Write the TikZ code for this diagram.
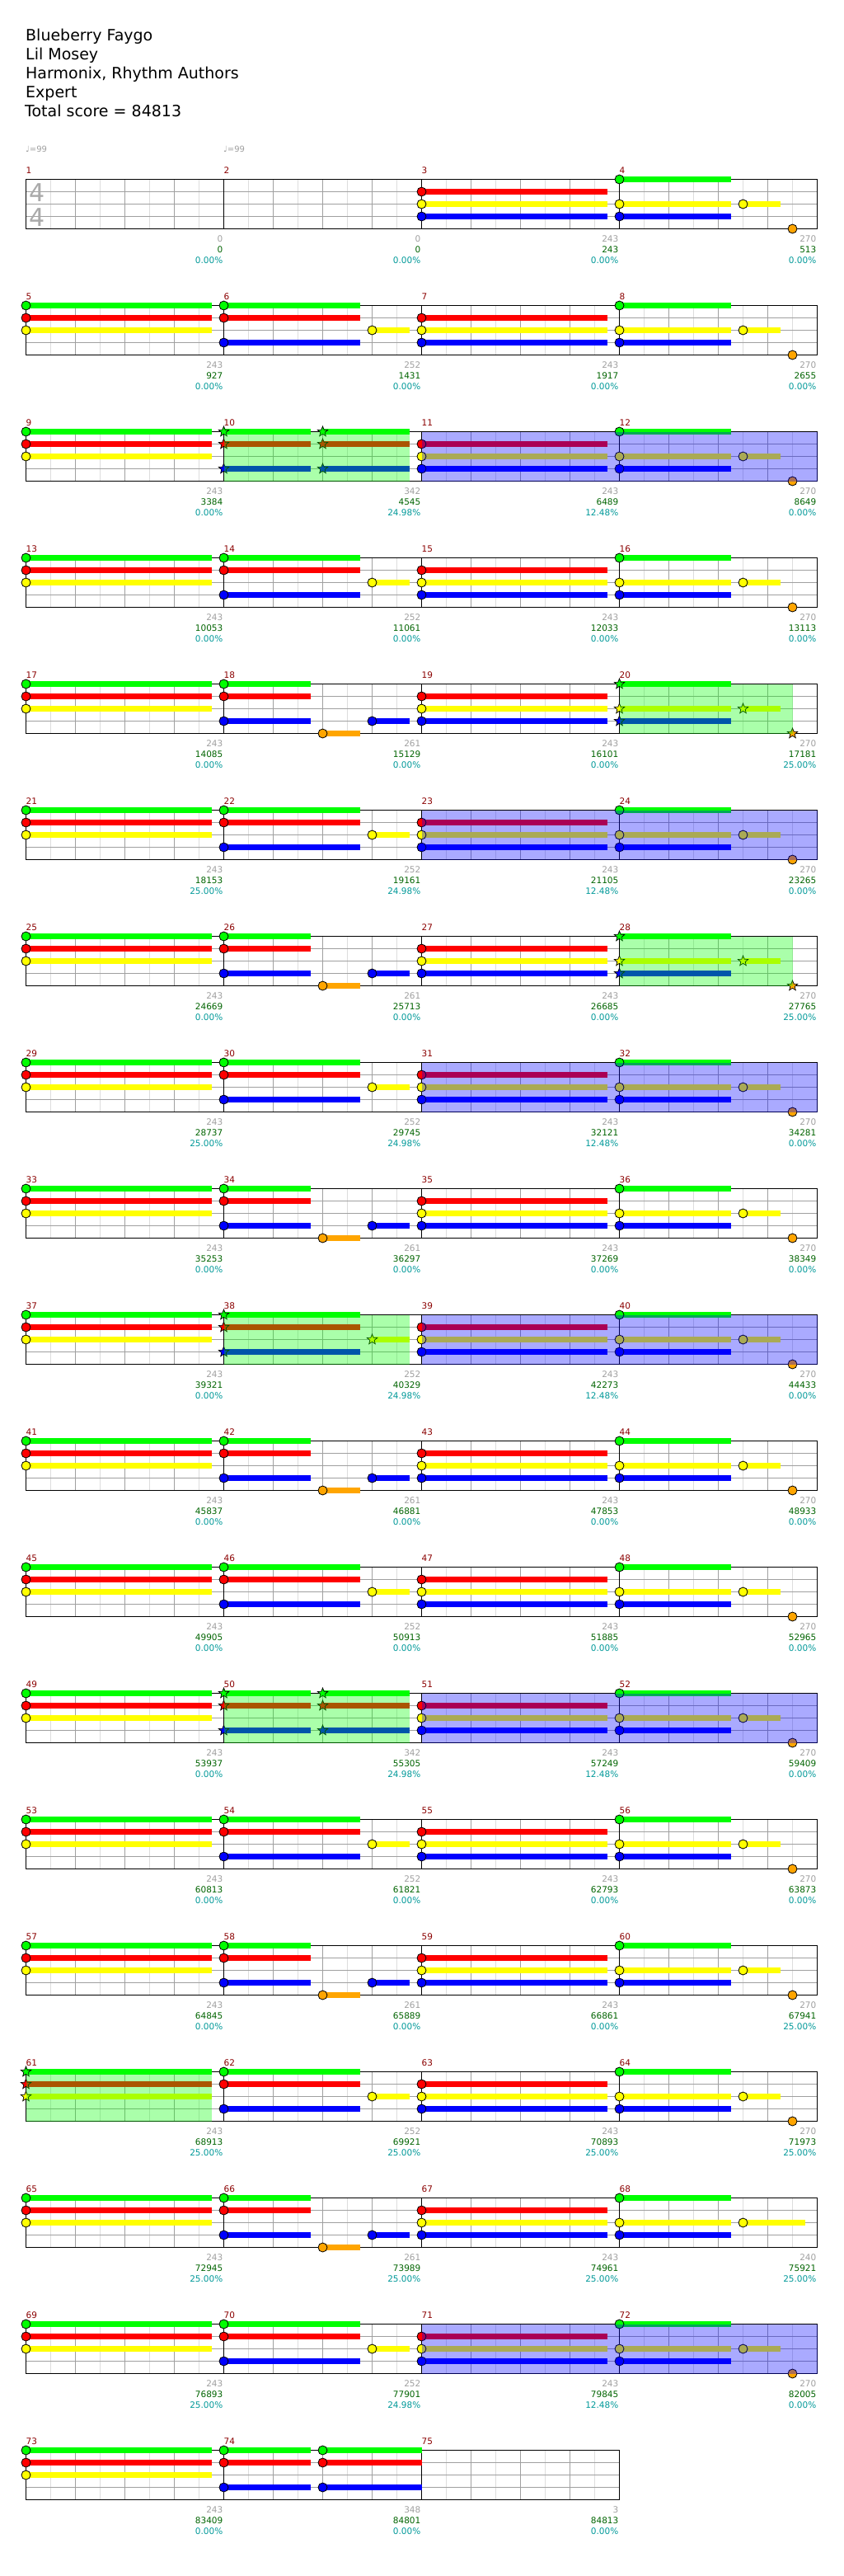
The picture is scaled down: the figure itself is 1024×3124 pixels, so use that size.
\documentclass[tikz,border=0pt]{standalone}
\usepackage{fontspec}
\setmainfont{DejaVu Sans}
\usetikzlibrary{shapes.geometric}
\definecolor{cG}{RGB}{0,255,0}
\definecolor{cR}{RGB}{255,0,0}
\definecolor{cY}{RGB}{255,255,0}
\definecolor{cB}{RGB}{0,0,255}
\definecolor{cO}{RGB}{255,165,0}
\definecolor{gridmid}{RGB}{160,160,160}
\definecolor{gridlight}{RGB}{221,221,221}
\definecolor{mnumc}{RGB}{139,0,0}
\definecolor{lgray}{RGB}{160,160,160}
\definecolor{lgreen}{RGB}{0,100,0}
\definecolor{lteal}{RGB}{0,153,153}
\definecolor{tsig}{RGB}{170,170,170}
\newcount\nidc
\newcommand\nextid{\global\advance\nidc by 1\relax}
\newif\ifstarmode
\tikzset{
 gl/.style={draw=gridlight, line width=1pt},
 gm/.style={draw=gridmid, line width=1pt},
 blk/.style={draw=black, line width=1pt},
 notec/.style={draw=black, line width=0.8pt},
 starn/.style={star, star points=5, star point ratio=2.3, minimum size=13pt, inner sep=0pt, draw=black, line width=0.7pt},
 mnum/.style={text=mnumc, font=\fontsize{10.5}{12}\selectfont, anchor=west, inner sep=0pt, text height=7.7pt, text depth=0pt},
 lab/.style={font=\fontsize{10.5}{12}\selectfont, anchor=east, inner sep=0pt, text height=7.7pt, text depth=0pt},
 hdr/.style={anchor=base west, inner sep=0pt, font=\fontsize{19}{23}\selectfont},
 tempo/.style={anchor=base west, inner sep=0pt, text=lgray, font=\fontsize{10}{12}\selectfont},
 tsg/.style={inner sep=0pt, text=tsig, font=\fontsize{30}{31}\selectfont},
 phr/.style={fill=cG, fill opacity=0.3333},
 act/.style={fill=cB, fill opacity=0.3333}
}
\newcommand\Sus[4]{\fill[#4] ({#1},{#3-3.5}) rectangle ({#2},{#3+3.5});}
\newcommand\N[3]{\ifstarmode\nextid\node[starn, fill=#3] (s\the\nidc) at ({#1},{#2}) {};\else\filldraw[notec, fill=#3] ({#1},{#2}) circle[radius=5.5pt];\fi}
% measure types: #1 = x0, #2 = staff top
\newcommand\mA[2]{%
 \Sus{#1}{#1+225}{#2+15}{cR}\Sus{#1}{#1+225}{#2+30}{cY}\Sus{#1}{#1+225}{#2+45}{cB}%
 \N{#1}{#2+15}{cR}\N{#1}{#2+30}{cY}\N{#1}{#2+45}{cB}}
\newcommand\mB[2]{%
 \Sus{#1}{#1+135}{#2}{cG}\Sus{#1}{#1+135}{#2+30}{cY}\Sus{#1}{#1+135}{#2+45}{cB}\Sus{#1+150}{#1+195}{#2+30}{cY}%
 \N{#1}{#2}{cG}\N{#1}{#2+30}{cY}\N{#1}{#2+45}{cB}\N{#1+150}{#2+30}{cY}\N{#1+210}{#2+60}{cO}}
\newcommand\mBb[2]{%
 \Sus{#1}{#1+135}{#2}{cG}\Sus{#1}{#1+135}{#2+30}{cY}\Sus{#1}{#1+135}{#2+45}{cB}\Sus{#1+150}{#1+225}{#2+30}{cY}%
 \N{#1}{#2}{cG}\N{#1}{#2+30}{cY}\N{#1}{#2+45}{cB}\N{#1+150}{#2+30}{cY}}
\newcommand\mC[2]{%
 \Sus{#1}{#1+225}{#2}{cG}\Sus{#1}{#1+225}{#2+15}{cR}\Sus{#1}{#1+225}{#2+30}{cY}%
 \N{#1}{#2}{cG}\N{#1}{#2+15}{cR}\N{#1}{#2+30}{cY}}
\newcommand\mD[2]{%
 \Sus{#1}{#1+165}{#2}{cG}\Sus{#1}{#1+165}{#2+15}{cR}\Sus{#1}{#1+165}{#2+45}{cB}\Sus{#1+180}{#1+225}{#2+30}{cY}%
 \N{#1}{#2}{cG}\N{#1}{#2+15}{cR}\N{#1}{#2+45}{cB}\N{#1+180}{#2+30}{cY}}
\newcommand\mE[2]{%
 \Sus{#1}{#1+105}{#2}{cG}\Sus{#1}{#1+105}{#2+15}{cR}\Sus{#1}{#1+105}{#2+45}{cB}%
 \Sus{#1+120}{#1+165}{#2+60}{cO}\Sus{#1+180}{#1+225}{#2+45}{cB}%
 \N{#1}{#2}{cG}\N{#1}{#2+15}{cR}\N{#1}{#2+45}{cB}\N{#1+120}{#2+60}{cO}\N{#1+180}{#2+45}{cB}}
\newcommand\mF[3]{% #3 = end of second sustain
 \Sus{#1}{#1+105}{#2}{cG}\Sus{#1}{#1+105}{#2+15}{cR}\Sus{#1}{#1+105}{#2+45}{cB}%
 \Sus{#1+120}{#1+#3}{#2}{cG}\Sus{#1+120}{#1+#3}{#2+15}{cR}\Sus{#1+120}{#1+#3}{#2+45}{cB}%
 \N{#1}{#2}{cG}\N{#1}{#2+15}{cR}\N{#1}{#2+45}{cB}%
 \N{#1+120}{#2}{cG}\N{#1+120}{#2+15}{cR}\N{#1+120}{#2+45}{cB}}
\newcommand\RowGrid[2]{%
 \pgfmathsetmacro\xe{31+240*#2}%
 \foreach \m in {1,...,#2}{%
   \pgfmathsetmacro\xa{31+240*(\m-1)}%
   \foreach \o in {30,90,150,210}{\draw[gl] ({\xa+\o},#1) -- ({\xa+\o},{#1+60});}%
 }%
 \foreach \o in {15,30,45}{\draw[gm] (31,{#1+\o}) -- (\xe,{#1+\o});}%
 \foreach \m in {1,...,#2}{%
   \pgfmathsetmacro\xa{31+240*(\m-1)}%
   \foreach \o in {60,120,180}{\draw[gm] ({\xa+\o},#1) -- ({\xa+\o},{#1+60});}%
   \draw[blk] (\xa,#1) -- (\xa,{#1+60});%
 }%
 \draw[blk] (31,#1) rectangle (\xe,{#1+60});%
}
\newcommand\MN[3]{\nextid\node[mnum] (m\the\nidc) at ({#1},{#2-10.6}) {#3};}
\newcommand\Nums[2]{\MN{31}{#1}{#2}\MN{271}{#1}{\the\numexpr#2+1\relax}\MN{511}{#1}{\the\numexpr#2+2\relax}\MN{751}{#1}{\the\numexpr#2+3\relax}}
\newcommand\Lab[5]{%
 \nextid\node[lab, text=lgray] (g\the\nidc) at ({#1-1},{#2+71.7}) {#3};%
 \nextid\node[lab, text=lgreen] (h\the\nidc) at ({#1-1},{#2+84.7}) {#4};%
 \nextid\node[lab, text=lteal] (p\the\nidc) at ({#1-1},{#2+98}) {#5};}
\newcommand\Row[5]{\RowGrid{#1}{4}#2{31}{#1}#3{271}{#1}#4{511}{#1}#5{751}{#1}}
\newcommand\Phr[3]{\fill[phr] ({#1},#3) rectangle ({#2},{#3+60});}
\newcommand\Act[3]{\fill[act] ({#1},#3) rectangle ({#2},{#3+60});}
\begin{document}
\begin{tikzpicture}[x=1pt,y=-1pt]
\useasboundingbox (0,0) rectangle (1024,3124);
\fill[white] (0,0) rectangle (1024,3124);
% header
\node[hdr] (title) at (31,49.3) {Blueberry Faygo};
\node[hdr] (artist) at (31,72.3) {Lil Mosey};
\node[hdr] (authors) at (31,95.3) {Harmonix, Rhythm Authors};
\node[hdr] (diff) at (31,118.3) {Expert};
\node[hdr] (total) at (30,141.5) {Total score = 84813};
\node[tempo] (tempo1) at (31,184) {♩=99};
\node[tempo] (tempo2) at (271,184) {♩=99};
\begin{scope}[shift={(0.5,0.2)}]
% row 1
\RowGrid{217.3}{4}
\node[tsg] (ts1) at (44.5,233.7) {4};
\node[tsg] (ts2) at (44.5,263.5) {4};
\mA{511}{217.3}\mB{751}{217.3}
\Nums{217.3}{1}
\Lab{271}{217.3}{0}{0}{0.00\%}\Lab{511}{217.3}{0}{0}{0.00\%}\Lab{751}{217.3}{243}{243}{0.00\%}\Lab{991}{217.3}{270}{513}{0.00\%}
% row 2
\Row{370.3}{\mC}{\mD}{\mA}{\mB}\Nums{370.3}{5}
\Lab{271}{370.3}{243}{927}{0.00\%}\Lab{511}{370.3}{252}{1431}{0.00\%}\Lab{751}{370.3}{243}{1917}{0.00\%}\Lab{991}{370.3}{270}{2655}{0.00\%}
% row 3
\RowGrid{523.3}{4}\mC{31}{523.3}\starmodetrue\mF{271}{523.3}{225}\starmodefalse\mA{511}{523.3}\mB{751}{523.3}
\Phr{271}{496}{523.3}\Act{511}{991}{523.3}\Nums{523.3}{9}
\Lab{271}{523.3}{243}{3384}{0.00\%}\Lab{511}{523.3}{342}{4545}{24.98\%}\Lab{751}{523.3}{243}{6489}{12.48\%}\Lab{991}{523.3}{270}{8649}{0.00\%}
% row 4
\Row{676.3}{\mC}{\mD}{\mA}{\mB}\Nums{676.3}{13}
\Lab{271}{676.3}{243}{10053}{0.00\%}\Lab{511}{676.3}{252}{11061}{0.00\%}\Lab{751}{676.3}{243}{12033}{0.00\%}\Lab{991}{676.3}{270}{13113}{0.00\%}
% row 5
\RowGrid{829.3}{4}\mC{31}{829.3}\mE{271}{829.3}\mA{511}{829.3}\starmodetrue\mB{751}{829.3}\starmodefalse
\Phr{751}{961}{829.3}\Nums{829.3}{17}
\Lab{271}{829.3}{243}{14085}{0.00\%}\Lab{511}{829.3}{261}{15129}{0.00\%}\Lab{751}{829.3}{243}{16101}{0.00\%}\Lab{991}{829.3}{270}{17181}{25.00\%}
% row 6
\Row{982.3}{\mC}{\mD}{\mA}{\mB}\Act{511}{991}{982.3}\Nums{982.3}{21}
\Lab{271}{982.3}{243}{18153}{25.00\%}\Lab{511}{982.3}{252}{19161}{24.98\%}\Lab{751}{982.3}{243}{21105}{12.48\%}\Lab{991}{982.3}{270}{23265}{0.00\%}
% row 7
\RowGrid{1135.3}{4}\mC{31}{1135.3}\mE{271}{1135.3}\mA{511}{1135.3}\starmodetrue\mB{751}{1135.3}\starmodefalse
\Phr{751}{961}{1135.3}\Nums{1135.3}{25}
\Lab{271}{1135.3}{243}{24669}{0.00\%}\Lab{511}{1135.3}{261}{25713}{0.00\%}\Lab{751}{1135.3}{243}{26685}{0.00\%}\Lab{991}{1135.3}{270}{27765}{25.00\%}
% row 8
\Row{1288.3}{\mC}{\mD}{\mA}{\mB}\Act{511}{991}{1288.3}\Nums{1288.3}{29}
\Lab{271}{1288.3}{243}{28737}{25.00\%}\Lab{511}{1288.3}{252}{29745}{24.98\%}\Lab{751}{1288.3}{243}{32121}{12.48\%}\Lab{991}{1288.3}{270}{34281}{0.00\%}
% row 9
\Row{1441.3}{\mC}{\mE}{\mA}{\mB}\Nums{1441.3}{33}
\Lab{271}{1441.3}{243}{35253}{0.00\%}\Lab{511}{1441.3}{261}{36297}{0.00\%}\Lab{751}{1441.3}{243}{37269}{0.00\%}\Lab{991}{1441.3}{270}{38349}{0.00\%}
% row 10
\RowGrid{1594.3}{4}\mC{31}{1594.3}\starmodetrue\mD{271}{1594.3}\starmodefalse\mA{511}{1594.3}\mB{751}{1594.3}
\Phr{271}{496}{1594.3}\Act{511}{991}{1594.3}\Nums{1594.3}{37}
\Lab{271}{1594.3}{243}{39321}{0.00\%}\Lab{511}{1594.3}{252}{40329}{24.98\%}\Lab{751}{1594.3}{243}{42273}{12.48\%}\Lab{991}{1594.3}{270}{44433}{0.00\%}
% row 11
\Row{1747.3}{\mC}{\mE}{\mA}{\mB}\Nums{1747.3}{41}
\Lab{271}{1747.3}{243}{45837}{0.00\%}\Lab{511}{1747.3}{261}{46881}{0.00\%}\Lab{751}{1747.3}{243}{47853}{0.00\%}\Lab{991}{1747.3}{270}{48933}{0.00\%}
% row 12
\Row{1900.3}{\mC}{\mD}{\mA}{\mB}\Nums{1900.3}{45}
\Lab{271}{1900.3}{243}{49905}{0.00\%}\Lab{511}{1900.3}{252}{50913}{0.00\%}\Lab{751}{1900.3}{243}{51885}{0.00\%}\Lab{991}{1900.3}{270}{52965}{0.00\%}
% row 13
\RowGrid{2053.3}{4}\mC{31}{2053.3}\starmodetrue\mF{271}{2053.3}{225}\starmodefalse\mA{511}{2053.3}\mB{751}{2053.3}
\Phr{271}{496}{2053.3}\Act{511}{991}{2053.3}\Nums{2053.3}{49}
\Lab{271}{2053.3}{243}{53937}{0.00\%}\Lab{511}{2053.3}{342}{55305}{24.98\%}\Lab{751}{2053.3}{243}{57249}{12.48\%}\Lab{991}{2053.3}{270}{59409}{0.00\%}
% row 14
\Row{2206.3}{\mC}{\mD}{\mA}{\mB}\Nums{2206.3}{53}
\Lab{271}{2206.3}{243}{60813}{0.00\%}\Lab{511}{2206.3}{252}{61821}{0.00\%}\Lab{751}{2206.3}{243}{62793}{0.00\%}\Lab{991}{2206.3}{270}{63873}{0.00\%}
% row 15
\Row{2359.3}{\mC}{\mE}{\mA}{\mB}\Nums{2359.3}{57}
\Lab{271}{2359.3}{243}{64845}{0.00\%}\Lab{511}{2359.3}{261}{65889}{0.00\%}\Lab{751}{2359.3}{243}{66861}{0.00\%}\Lab{991}{2359.3}{270}{67941}{25.00\%}
% row 16
\RowGrid{2512.3}{4}\starmodetrue\mC{31}{2512.3}\starmodefalse\mD{271}{2512.3}\mA{511}{2512.3}\mB{751}{2512.3}
\Phr{31}{256}{2512.3}\Nums{2512.3}{61}
\Lab{271}{2512.3}{243}{68913}{25.00\%}\Lab{511}{2512.3}{252}{69921}{25.00\%}\Lab{751}{2512.3}{243}{70893}{25.00\%}\Lab{991}{2512.3}{270}{71973}{25.00\%}
% row 17
\Row{2665.3}{\mC}{\mE}{\mA}{\mBb}\Nums{2665.3}{65}
\Lab{271}{2665.3}{243}{72945}{25.00\%}\Lab{511}{2665.3}{261}{73989}{25.00\%}\Lab{751}{2665.3}{243}{74961}{25.00\%}\Lab{991}{2665.3}{240}{75921}{25.00\%}
% row 18
\Row{2818.3}{\mC}{\mD}{\mA}{\mB}\Act{511}{991}{2818.3}\Nums{2818.3}{69}
\Lab{271}{2818.3}{243}{76893}{25.00\%}\Lab{511}{2818.3}{252}{77901}{24.98\%}\Lab{751}{2818.3}{243}{79845}{12.48\%}\Lab{991}{2818.3}{270}{82005}{0.00\%}
% row 19
\RowGrid{2971.3}{3}\mC{31}{2971.3}\mF{271}{2971.3}{240}
\MN{31}{2971.3}{73}\MN{271}{2971.3}{74}\MN{511}{2971.3}{75}
\Lab{271}{2971.3}{243}{83409}{0.00\%}\Lab{511}{2971.3}{348}{84801}{0.00\%}\Lab{751}{2971.3}{3}{84813}{0.00\%}
\end{scope}
\end{tikzpicture}
\end{document}
